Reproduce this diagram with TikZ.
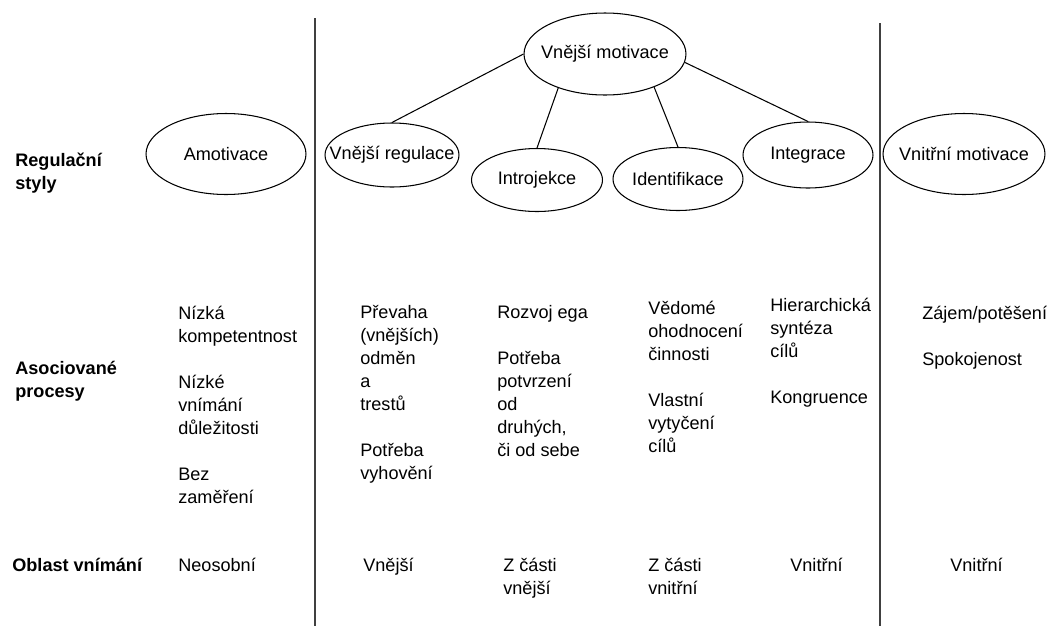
\documentclass[tikz,border=0pt]{standalone}
\usepackage{fontspec}
\setmainfont{Liberation Sans}
\usetikzlibrary{shapes.geometric}
\newcommand{\inoval}[1]{\makebox[0pt]{#1}}

\begin{document}
\begin{tikzpicture}[x=0.02cm,y=-0.02cm,
    every node/.style={font=\fontsize{10.3pt}{13.1pt}\selectfont},
    oval/.style={ellipse,draw,line width=0.6pt,inner sep=0pt},
    rowhead/.style={anchor=north west,align=left,inner sep=0pt,font=\fontsize{10.3pt}{13.1pt}\selectfont\bfseries},
    cell/.style={anchor=north west,align=left,inner sep=0pt},
    link/.style={line width=0.6pt}]
        \useasboundingbox (0,0) rectangle (1052,626);
        \draw[line width=0.9pt,black!75] (315,18) -- (315,626);
        \draw[line width=0.9pt,black!75] (880,23) -- (880,626);

        \node[rowhead] (hreg) at (15,153) {Regulační\\styly};
        \node[rowhead] (hproc) at (15,361) {Asociované\\procesy};
        \node[rowhead] (hobl) at (12,558) {Oblast vnímání};

        \node[oval,minimum width=3.2cm,minimum height=1.62cm] (amot) at (226,154) {\inoval{Amotivace}};
        \node[oval,minimum width=3.24cm,minimum height=1.64cm] (vnmot) at (605,54) {\inoval{Vnější motivace}};
        \node[oval,minimum width=2.68cm,minimum height=1.28cm] (vnreg) at (392,155) {\inoval{Vnější regulace}};
        \node[oval,minimum width=2.62cm,minimum height=1.26cm] (intro) at (537,180) {\inoval{Introjekce}};
        \node[oval,minimum width=2.6cm,minimum height=1.26cm] (ident) at (678,179) {\inoval{Identifikace}};
        \node[oval,minimum width=2.6cm,minimum height=1.32cm] (integ) at (808,155) {\inoval{Integrace}};
        \node[oval,minimum width=3.24cm,minimum height=1.62cm] (vnitr) at (964,154) {\inoval{Vnitřní motivace}};

        \draw[link] (vnmot.west) -- (vnreg.north);
        \draw[link] (vnmot.-144) -- (intro.north);
        \draw[link] (vnmot.-34) -- (ident.north);
        \draw[link] (vnmot.-6) -- (integ.north);

        \node[cell] (p1) at (178,306) {Nízká\\kompetentnost\\[13pt]Nízké\\vnímání\\důležitosti\\[13pt]Bez\\zaměření};
        \node[cell] (p2) at (360,305) {Převaha\\(vnějších)\\odměn\\a\\trestů\\[13pt]Potřeba\\vyhovění};
        \node[cell] (p3) at (497,305) {Rozvoj ega\\[13pt]Potřeba\\potvrzení\\od\\druhých,\\či od sebe};
        \node[cell] (p4) at (648,301) {Vědomé\\ohodnocení\\činnosti\\[13pt]Vlastní\\vytyčení\\cílů};
        \node[cell] (p5) at (770,298) {Hierarchická\\syntéza\\cílů\\[13pt]Kongruence};
        \node[cell] (p6) at (922,306) {Zájem/potěšení\\[13pt]Spokojenost};

        \node[cell] (o1) at (178,558) {Neosobní};
        \node[cell] (o2) at (363,558) {Vnější};
        \node[cell] (o3) at (503,558) {Z části\\vnější};
        \node[cell] (o4) at (648,558) {Z části\\vnitřní};
        \node[cell] (o5) at (790,558) {Vnitřní};
        \node[cell] (o6) at (950,558) {Vnitřní};
\end{tikzpicture}
\end{document}
